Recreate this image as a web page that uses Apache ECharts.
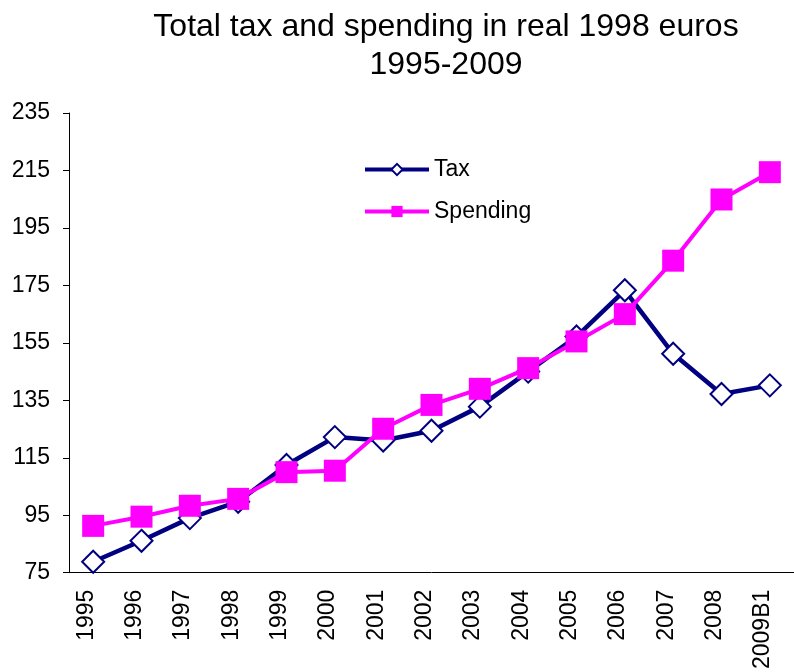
<!DOCTYPE html>
<html>
<head>
<meta charset="utf-8">
<script src="https://cdn.jsdelivr.net/npm/echarts@6/dist/echarts.min.js"></script>
<style>
  html, body { margin: 0; padding: 0; background: #fff; }
  #chart { width: 794px; height: 672px; }
</style>
</head>
<body>
<div id="chart"></div>
<script>
const years = ['1995', '1996', '1997', '1998', '1999', '2000', '2001', '2002',
  '2003', '2004', '2005', '2006', '2007', '2008', '2009B1']
const tax = [78.8, 86.1, 94.0, 99.7, 112.5, 122.2, 121.0, 124.4,
  132.8, 145.0, 157.2, 173.3, 151.2, 137.2, 140.2]
const spending = [91.3, 94.5, 98.3, 100.7, 110.0, 110.5, 125.1, 133.4,
  139.0, 146.2, 155.5, 165.0, 183.6, 204.9, 214.4]

const font = "'Liberation Sans', Arial, sans-serif"

const chart = echarts.init(document.getElementById('chart'), null, { renderer: 'canvas' })

chart.setOption({
  backgroundColor: '#fff',
  animation: false,
  title: {
    text: 'Total tax and spending in real 1998 euros\n1995-2009',
    left: 446,
    top: 8,
    padding: 0,
    textAlign: 'center',
    textStyle: {
      fontFamily: font,
      fontSize: 32,
      fontWeight: 'normal',
      color: '#000',
      lineHeight: 38
    }
  },
  legend: {
    orient: 'vertical',
    left: 363,
    top: 158,
    padding: 0,
    itemWidth: 64,
    itemHeight: 14,
    itemGap: 19,
    lineStyle: { width: 4 },
    textStyle: { fontFamily: font, fontSize: 23, color: '#000' },
    data: ['Tax', 'Spending']
  },
  grid: {
    left: 69,
    top: 113,
    width: 729,
    height: 460
  },
  xAxis: {
    type: 'category',
    data: years,
    boundaryGap: true,
    axisLine: { lineStyle: { color: '#000', width: 1 } },
    axisTick: { length: 7, lineStyle: { color: '#000' } },
    axisLabel: {
      interval: 0,
      rotate: 90,
      margin: 17,
      verticalAlign: 'bottom',
      lineHeight: 14,
      fontFamily: font,
      fontSize: 23,
      color: '#000'
    },
    splitLine: { show: false }
  },
  yAxis: {
    type: 'value',
    min: 75,
    max: 235,
    interval: 20,
    axisLine: { show: true, lineStyle: { color: '#000', width: 1 } },
    axisTick: { show: true, length: 6, lineStyle: { color: '#000' } },
    axisLabel: {
      margin: 19,
      fontFamily: font,
      fontSize: 23,
      color: '#000'
    },
    splitLine: { show: false }
  },
  series: [
    {
      name: 'Tax',
      type: 'line',
      data: tax,
      symbol: 'diamond',
      symbolSize: 22,
      lineStyle: { color: '#000080', width: 4.5 },
      itemStyle: { color: '#fff', borderColor: '#000080', borderWidth: 2 },
      z: 2
    },
    {
      name: 'Spending',
      type: 'line',
      data: spending,
      symbol: 'rect',
      symbolSize: 22,
      lineStyle: { color: '#ff00ff', width: 4 },
      itemStyle: { color: '#ff00ff', borderColor: '#ff00ff', borderWidth: 0 },
      z: 3
    }
  ]
})
</script>
</body>
</html>
